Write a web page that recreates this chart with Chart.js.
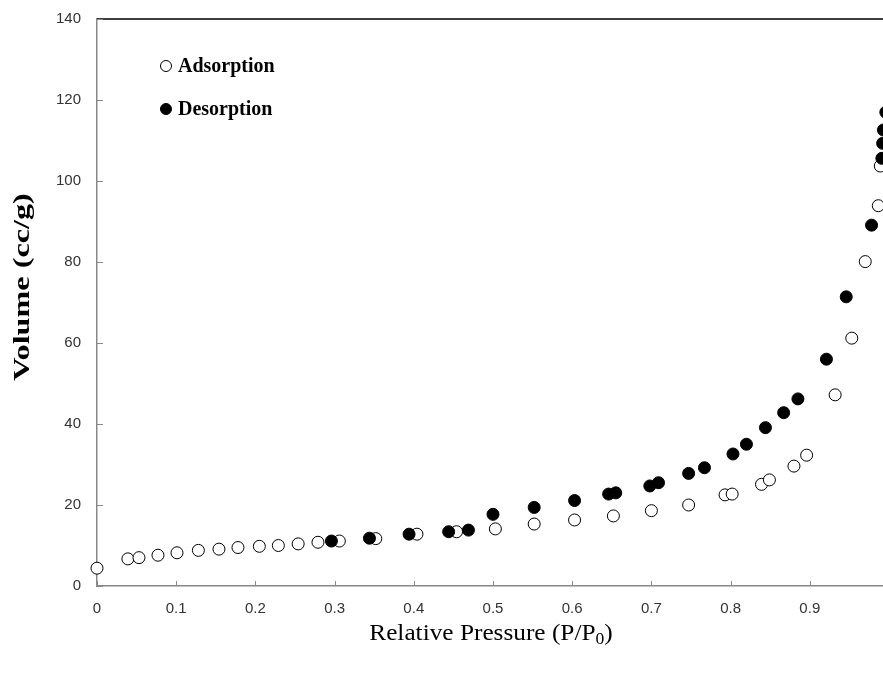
<!DOCTYPE html>
<html>
<head>
<meta charset="utf-8">
<script src="https://cdn.jsdelivr.net/npm/chart.js@4"></script>
<style>
  html, body { margin: 0; padding: 0; overflow: hidden; background: #fff; }
</style>
</head>
<body>
<canvas id="isotherm" width="920" height="674"></canvas>
<script>
// relative pressure (P/P0) and volume (cc/g)
const adsorptionP = [0, 0.039, 0.053, 0.077, 0.101, 0.128, 0.154, 0.178, 0.205, 0.229, 0.254, 0.279,
    0.306, 0.352, 0.404, 0.454, 0.503, 0.552, 0.603, 0.652, 0.700, 0.747, 0.793, 0.802,
    0.839, 0.849, 0.880, 0.896, 0.932, 0.953, 0.970, 0.9865, 0.989];
const adsorptionV = [4.4, 6.7, 7.0, 7.6, 8.2, 8.8, 9.1, 9.5, 9.8, 10.0, 10.4, 10.8,
    11.1, 11.7, 12.8, 13.4, 14.1, 15.3, 16.3, 17.3, 18.6, 20.0, 22.5, 22.7,
    25.1, 26.2, 29.6, 32.3, 47.2, 61.2, 80.1, 93.9, 103.7];

const desorptionP = [0.996, 0.993, 0.992, 0.991, 0.978, 0.946, 0.921, 0.885, 0.867, 0.844, 0.820,
    0.803, 0.767, 0.747, 0.709, 0.698, 0.655, 0.646, 0.603, 0.552, 0.500, 0.469, 0.444,
    0.394, 0.344, 0.296];
const desorptionV = [117.0, 112.6, 109.3, 105.6, 89.1, 71.4, 56.0, 46.2, 42.8, 39.1, 35.0,
    32.6, 29.2, 27.8, 25.5, 24.7, 23.0, 22.7, 21.1, 19.4, 17.7, 13.8, 13.4,
    12.8, 11.8, 11.1];

const xTicks = ["0", "0.1", "0.2", "0.3", "0.4", "0.5", "0.6", "0.7", "0.8", "0.9", "1"];
const yTicks = ["0", "20", "40", "60", "80", "100", "120", "140"];

const toPoints = (xs, ys) => xs.map((x, i) => ({ x: x, y: ys[i] }));

// top border, inward tick marks, axis titles
const frame = {
    id: "frame",
    afterDraw(chart) {
        const { ctx, chartArea: a } = chart;
        const x = chart.scales.x, y = chart.scales.y;
        ctx.save();
        ctx.strokeStyle = "#000";
        ctx.lineWidth = 1.5;
        ctx.beginPath();
        ctx.moveTo(a.left, a.top);
        ctx.lineTo(a.right, a.top);
        ctx.lineTo(a.right, a.bottom);
        ctx.stroke();

        ctx.strokeStyle = "#888";
        ctx.lineWidth = 1;
        x.ticks.forEach(t => {
            const px = Math.round(x.getPixelForValue(t.value)) + 0.5;
            ctx.beginPath();
            ctx.moveTo(px, a.bottom);
            ctx.lineTo(px, a.bottom - 5);
            ctx.stroke();
        });
        y.ticks.forEach(t => {
            const py = Math.round(y.getPixelForValue(t.value)) + 0.5;
            ctx.beginPath();
            ctx.moveTo(a.left, py);
            ctx.lineTo(a.left + 6, py);
            ctx.stroke();
        });

        // y title, stretched along its length like the original
        ctx.fillStyle = "#000";
        ctx.font = "bold 23px 'Liberation Serif', 'Times New Roman', serif";
        ctx.textAlign = "center";
        ctx.textBaseline = "middle";
        ctx.translate(23, 287);
        ctx.rotate(-Math.PI / 2);
        ctx.scale(1.4, 1);
        ctx.fillText("Volume (cc/g)", 0, 0);
        ctx.restore();

        // x title with subscript 0
        ctx.save();
        ctx.fillStyle = "#000";
        ctx.textBaseline = "alphabetic";
        ctx.textAlign = "left";
        const big = "23px 'Liberation Serif', 'Times New Roman', serif";
        const small = "16px 'Liberation Serif', 'Times New Roman', serif";
        const partA = "Relative Pressure (P/P", partB = "0", partC = ")";
        ctx.font = big;
        const wA = ctx.measureText(partA).width, wC = ctx.measureText(partC).width;
        ctx.font = small;
        const wB = ctx.measureText(partB).width;
        const stretch = 1.1;
        ctx.translate(491 - stretch * (wA + wB + wC) / 2, 640);
        ctx.scale(stretch, 1);
        let cx = 0;
        ctx.font = big;
        ctx.fillText(partA, cx, 0);
        cx += wA;
        ctx.font = small;
        ctx.fillText(partB, cx, 4);
        cx += wB;
        ctx.font = big;
        ctx.fillText(partC, cx, 0);
        ctx.restore();
    }
};

// legend inside the plot, top left
const innerLegend = {
    id: "innerLegend",
    afterDraw(chart) {
        const ctx = chart.ctx;
        ctx.save();
        chart.data.datasets.forEach((ds, i) => {
            const cy = 66 + i * 43;
            ctx.beginPath();
            ctx.arc(166, cy, ds.pointRadius - 0.5, 0, Math.PI * 2);
            ctx.fillStyle = ds.pointBackgroundColor;
            ctx.fill();
            ctx.lineWidth = ds.pointBorderWidth;
            ctx.strokeStyle = ds.pointBorderColor;
            ctx.stroke();
            ctx.fillStyle = "#000";
            ctx.font = "bold 20px 'Liberation Serif', 'Times New Roman', serif";
            ctx.textAlign = "left";
            ctx.textBaseline = "middle";
            ctx.fillText(ds.label, 178, cy + 1);
        });
        ctx.restore();
    }
};

const tickFont = { family: "'Liberation Sans', Arial, sans-serif", size: 15 };

new Chart(document.getElementById("isotherm").getContext("2d"), {
    type: "scatter",
    data: {
        datasets: [
            {
                label: "Adsorption",
                data: toPoints(adsorptionP, adsorptionV),
                pointRadius: 6,
                pointBackgroundColor: "#fff",
                pointBorderColor: "#000",
                pointBorderWidth: 1,
                clip: false,
                order: 2
            },
            {
                label: "Desorption",
                data: toPoints(desorptionP, desorptionV),
                pointRadius: 6,
                pointBackgroundColor: "#000",
                pointBorderColor: "#000",
                pointBorderWidth: 1,
                clip: false,
                order: 1
            }
        ]
    },
    options: {
        responsive: false,
        animation: false,
        events: [],
        layout: { padding: { top: 19, right: 31, bottom: 0, left: 0 } },
        plugins: { legend: { display: false }, tooltip: { enabled: false } },
        scales: {
            x: {
                type: "linear",
                min: 0,
                max: 1,
                afterFit: s => { s.height = 88; s.paddingLeft = 0; s.paddingRight = 0; },
                border: { color: "#888", width: 1.5 },
                grid: { drawOnChartArea: false, drawTicks: false },
                ticks: {
                    stepSize: 0.1,
                    padding: 14,
                    color: "#333",
                    font: tickFont,
                    maxRotation: 0,
                    callback: (v, i) => xTicks[i]
                }
            },
            y: {
                min: 0,
                max: 140,
                afterFit: s => { s.width = 97; s.paddingTop = 0; s.paddingBottom = 0; },
                border: { color: "#888", width: 1.5 },
                grid: { drawOnChartArea: false, drawTicks: false },
                ticks: {
                    stepSize: 20,
                    padding: 16,
                    color: "#333",
                    font: tickFont,
                    callback: (v, i) => yTicks[i]
                }
            }
        }
    },
    plugins: [frame, innerLegend]
});
</script>
</body>
</html>
